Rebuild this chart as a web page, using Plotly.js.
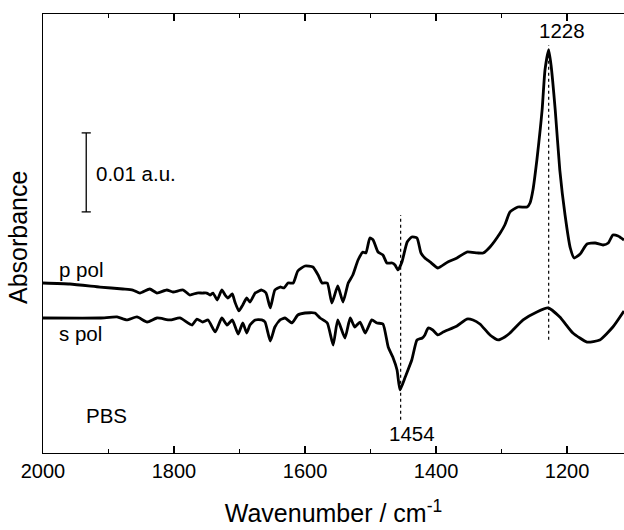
<!DOCTYPE html>
<html>
<head>
<meta charset="utf-8">
<script src="https://cdn.plot.ly/plotly-3.0.1.min.js"></script>
<style>
html,body{margin:0;padding:0;background:#fff;}
#chart{width:624px;height:530px;}
</style>
</head>
<body>
<div id="chart"></div>
<script>
// Wavenumbers (cm^-1) and absorbance (mAU, relative to each trace's baseline)
const pWave = [2000,1959,1913,1878,1863,1852,1837,1826,1811,1801.5,1786,1776,1765,1757,1750,1745,1740.5,1734,1727,1722,1717.6,1711,1707,1701,1695,1689,1684,1676,1666,1659.5,1653,1646,1638,1632,1626,1618,1611,1600,1588,1580,1574,1566,1559,1550,1542,1534,1527,1519,1511.5,1507,1501,1496,1488.5,1481,1475,1467,1462.6,1458,1452,1444,1437,1429,1423,1417,1409,1397,1382,1368,1353,1337,1328,1317.6,1302,1295,1287,1275,1261,1256.5,1252,1246,1241,1238,1233.6,1228,1224.4,1218,1211,1203,1195,1189,1180,1169.5,1157,1145,1137,1130,1122,1113];
const pAbs = [0,-0.13,-0.51,-0.76,-0.89,-1.27,-0.76,-1.27,-0.89,-1.14,-0.89,-1.52,-1.27,-1.27,-1.27,-1.52,-1.27,-2.15,-0.89,-1.52,-1.90,-1.39,-2.41,-3.54,-2.78,-1.90,-2.41,-1.27,-0.89,-1.27,-3.16,-0.89,-0.51,-0.63,0,0,1.52,2.15,2.03,1.01,0,0,-2.53,-0.38,-2.41,0,1.01,2.91,3.92,3.80,5.70,5.44,3.92,3.54,2.53,2.53,2.28,1.65,2.66,5.19,5.82,5.70,3.80,3.16,2.66,1.90,2.66,3.16,3.92,3.80,3.80,4.56,6.33,7.34,8.99,9.62,9.62,10.13,11.77,15.57,19.37,21.90,26.96,29.49,27.59,21.90,14.30,8.61,4.43,3.16,3.67,4.94,5.06,4.81,5.06,6.08,5.95,5.44];
const sWave = [2000,1913,1887,1872,1856.5,1841,1826,1806,1791,1772.5,1765,1756,1748,1737,1727,1719,1711,1702,1695,1689,1684,1676,1666,1661,1653,1646,1638,1630.5,1620,1611,1600,1585,1577,1566,1557,1550,1539,1531,1524,1516,1508,1498,1490,1481,1473,1466,1459.5,1455,1447,1437,1429,1421,1417,1412,1405,1397,1389,1368,1353,1343.5,1333,1317.6,1305,1295,1287,1267,1246,1229,1211,1191,1169.5,1150,1130,1113];
const sAbs = [0,0,0.13,-0.25,0.13,-0.51,0,-0.25,0,-0.89,-0.13,-0.51,-0.25,-1.77,0,-0.89,-0.25,-2.03,-0.63,-1.90,-0.89,-0.25,-0.25,-0.51,-2.91,-1.14,-0.25,0,-0.63,0.38,0.63,0.63,0,-0.63,-3.42,-0.25,-2.53,0,-1.14,-0.51,-1.90,-0.25,-0.63,-0.76,-3.67,-4.94,-6.58,-9.11,-7.47,-5.32,-2.78,-2.53,-2.15,-1.27,-1.52,-2.15,-1.77,-1.01,-0.13,-0.25,-0.76,-2.15,-2.78,-2.41,-1.90,-0.25,0.76,1.27,0.13,-1.90,-3.04,-2.78,-1.14,0.89];
const pOffset = 0;
const sOffset = -4.43;
const peakLabels = ["1228", "1454"];
const peakWave = [1228, 1454];
const xTicks = [2000, 1800, 1600, 1400, 1200];
const xRange = [2000, 1113];
const scaleBarSize = 10; // mAU = 0.01 a.u.

const font = 'Arial, "Liberation Sans", sans-serif';
const traces = [
  {x: pWave, y: pAbs.map(v => v + pOffset), type: 'scatter', mode: 'lines',
   line: {color: '#000', width: 2.8, shape: 'spline', smoothing: 0.5}, hoverinfo: 'skip'},
  {x: sWave, y: sAbs.map(v => v + sOffset), type: 'scatter', mode: 'lines',
   line: {color: '#000', width: 2.8, shape: 'spline', smoothing: 0.5}, hoverinfo: 'skip'},
  // invisible trace so the top axis (with inward ticks) is drawn
  {x: [xRange[0]], y: [0], xaxis: 'x2', yaxis: 'y', type: 'scatter', mode: 'markers',
   marker: {opacity: 0}, hoverinfo: 'skip'}
];

const barX = 1934, barTop = 19.0;
const shapes = [
  {type: 'line', xref: 'x', yref: 'y', x0: peakWave[0], x1: peakWave[0], y0: -7.2, y1: 30.1, line: {color: '#000', width: 1.2, dash: 'dot'}},
  {type: 'line', xref: 'x', yref: 'y', x0: peakWave[1], x1: peakWave[1], y0: -17.3, y1: 8.6, line: {color: '#000', width: 1.2, dash: 'dot'}},
  {type: 'line', xref: 'x', yref: 'y', x0: barX, x1: barX, y0: barTop - scaleBarSize, y1: barTop, line: {color: '#000', width: 1.3}},
  {type: 'line', xref: 'x', yref: 'y', x0: barX - 7, x1: barX + 7, y0: barTop, y1: barTop, line: {color: '#000', width: 1.3}},
  {type: 'line', xref: 'x', yref: 'y', x0: barX - 7, x1: barX + 7, y0: barTop - scaleBarSize, y1: barTop - scaleBarSize, line: {color: '#000', width: 1.3}}
];

const annFont = {family: font, size: 20.5, color: '#000'};
const annotations = [
  {x: 1978, y: 1.7, xref: 'x', yref: 'y', text: 'p pol', showarrow: false, xanchor: 'left', yanchor: 'middle', font: annFont},
  {x: 1978, y: sOffset - 1.9, xref: 'x', yref: 'y', text: 's pol', showarrow: false, xanchor: 'left', yanchor: 'middle', font: annFont},
  {x: 1937, y: -16.8, xref: 'x', yref: 'y', text: 'PBS', showarrow: false, xanchor: 'left', yanchor: 'middle', font: annFont},
  {x: 1922, y: barTop - scaleBarSize / 2 - 0.1, xref: 'x', yref: 'y', text: '0.01 a.u.', showarrow: false, xanchor: 'left', yanchor: 'middle', font: annFont},
  {x: 1208, y: 30.2, xref: 'x', yref: 'y', text: peakLabels[0], showarrow: false, xanchor: 'center', yanchor: 'bottom', font: annFont},
  {x: 1436, y: -19.0, xref: 'x', yref: 'y', text: peakLabels[1], showarrow: false, xanchor: 'center', yanchor: 'middle', font: annFont},
  {x: 0, y: 0, xref: 'paper', yref: 'paper', text: 'Absorbance', showarrow: false, textangle: -90, xanchor: 'center', yanchor: 'middle', font: {family: font, size: 25, color: '#000'}}
];
// place the y-label (pixel position converted to paper fraction)
annotations[6].x = (18 - 43) / (624 - 43);
annotations[6].y = (453 - 238) / (453 - 14);

const tickStyle = {
  ticks: 'inside', ticklen: 7, tickwidth: 1.3, tickcolor: '#000',
  minor: {dtick: 100, tick0: 2000, ticks: 'inside', ticklen: 4, tickwidth: 1.3, tickcolor: '#000'},
  showline: true, linecolor: '#000', linewidth: 1.3,
  showgrid: false, zeroline: false
};

const layout = {
  width: 624, height: 530,
  margin: {l: 43, r: 0, t: 14, b: 77},
  paper_bgcolor: '#fff', plot_bgcolor: '#fff',
  showlegend: false,
  xaxis: Object.assign({}, tickStyle, {
    range: xRange, tickvals: xTicks, ticktext: xTicks.map(String),
    tickfont: {family: font, size: 20, color: '#000'},
    title: {text: 'Wavenumber / cm<sup>-1</sup>', font: {family: font, size: 25, color: '#000'}, standoff: 23}
  }),
  xaxis2: Object.assign({}, tickStyle, {
    range: xRange, tickvals: xTicks, showticklabels: false,
    overlaying: 'x', side: 'top'
  }),
  yaxis: {
    range: [-21.52, 34.05], showticklabels: false, ticks: '',
    showline: true, linecolor: '#000', linewidth: 1.3, mirror: false,
    showgrid: false, zeroline: false
  },
  shapes: shapes,
  annotations: annotations
};
Plotly.newPlot('chart', traces, layout, {staticPlot: true, displayModeBar: false});
</script>
</body>
</html>
